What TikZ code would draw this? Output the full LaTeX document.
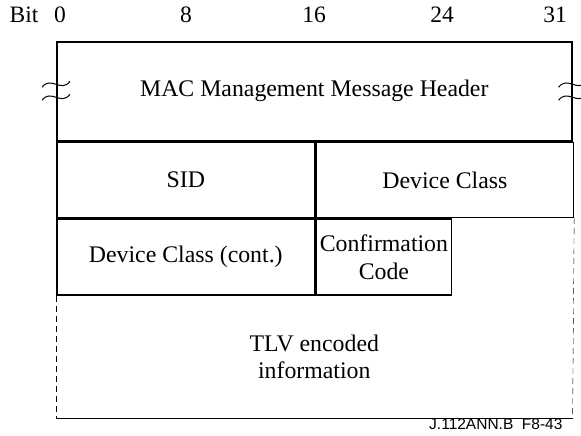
\documentclass[tikz,border=0pt]{standalone}
\usepackage{fontspec}
\setmainfont{Liberation Serif}
\newfontfamily\figsans{Liberation Sans}
\usetikzlibrary{positioning}
\tikzset{
  field/.style={draw, line width=1.6pt, inner sep=0pt, align=center, anchor=north west, font=\fontsize{23.8}{27.5}\selectfont},
  bitno/.style={anchor=base, font=\fontsize{23.5}{26}\selectfont},
  brk/.style={line width=1pt}
}

\begin{document}
\begin{tikzpicture}[x=1pt,y=1pt]
  \useasboundingbox (0,0) rectangle (581,436);
  \node[bitno] (bitlbl) at (24,413) {Bit};
  \node[bitno] (bit0) at (60,413) {0};
  \node[bitno] (bit8) at (186,413) {8};
  \node[bitno] (bit16) at (314,413) {16};
  \node[bitno] (bit24) at (442,413) {24};
  \node[bitno] (bit31) at (555,413) {31};
  \node[field, minimum width=515pt, minimum height=99pt] (hdr) at (56,395) {MAC Management Message Header};
  \node[field, minimum width=258pt, minimum height=75pt] (sid) at (hdr.south west) {SID};
  \node[field, minimum width=257pt, minimum height=75pt] (devcls) at (sid.north east) {Device Class};
  \node[field, minimum width=258pt, minimum height=76pt] (devcont) at (sid.south west) {Device Class (cont.)};
  \node[field, minimum width=135pt, minimum height=76pt] (confcode) at (devcont.north east) {Confirmation\\Code};
  \node[field, draw=none, minimum width=515pt, minimum height=121pt] (tlv) at (devcont.south west) {TLV encoded\\information};
  \draw[dashed, dash pattern=on 6pt off 4pt] (devcont.south west) -- (tlv.south west);
  \draw[dashed, dash pattern=on 6pt off 4pt] (devcls.south east) -- (tlv.south east);
  \draw[line width=1.6pt] (tlv.south west) -- (tlv.south east);
  \foreach \side in {hdr.west, hdr.east}
    \foreach \dy in {7,-6}
      \draw[brk] ([shift={(-14,\dy-3)}]\side) .. controls +(9,12) and +(-9,-12) .. ([shift={(14,\dy+3)}]\side);
  \node[anchor=base east, font=\figsans\fontsize{15.5}{18}\selectfont] (figid) at (566,6) {J.112ANN.B\ \ F8-43};
\end{tikzpicture}
\end{document}
